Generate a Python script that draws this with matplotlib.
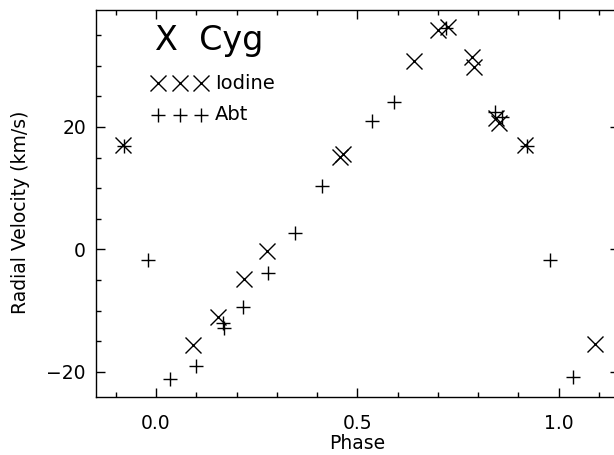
import numpy as np
import matplotlib
matplotlib.use("Agg")
import matplotlib.pyplot as plt
from matplotlib.ticker import MultipleLocator

plt.rcParams["font.family"] = ["DejaVu Sans"]

# ── radial velocities, folded on the pulsation phase ─────────
iodine_phase = [-0.082, 0.091, 0.155, 0.219, 0.275, 0.457, 0.464, 0.641,
                0.701, 0.726, 0.784, 0.790, 0.845, 0.853, 0.917, 1.091]
iodine_vel   = [17.0, -15.6, -11.0, -4.8, -0.2, 15.1, 15.6, 30.7,
                35.9, 36.4, 31.5, 29.8, 21.4, 20.6, 17.0, -15.5]

abt_phase = [-0.080, -0.021, 0.035, 0.099, 0.166, 0.170, 0.215, 0.279,
             0.345, 0.412, 0.536, 0.591, 0.720, 0.842, 0.859, 0.921,
             0.979, 1.035]
abt_vel   = [16.9, -1.75, -21.1, -19.0, -12.0, -12.9, -9.4, -3.9,
             2.7, 10.4, 21.0, 24.0, 36.1, 22.5, 21.7, 16.9,
             -1.75, -20.9]

xticks = [0.0, 0.5, 1.0]
xticklabels = ["0.0", "0.5", "1.0"]
yticks = [-20, 0, 20]
yticklabels = ["\u221220", "0", "20"]

fig = plt.figure(figsize=(6.14, 4.55), dpi=100)
ax = fig.add_axes([0.1557, 0.1275, 0.8524, 0.8505])

ax.plot(iodine_phase, iodine_vel, "x", color="black", markersize=12,
        markeredgewidth=1.0)
ax.plot(abt_phase, abt_vel, "+", color="black", markersize=10,
        markeredgewidth=1.0)

ax.set_xlim(-0.15, 1.15)
ax.set_ylim(-24.1, 39.1)

ax.set_xticks(xticks)
ax.set_xticklabels(xticklabels)
ax.set_yticks(yticks)
ax.set_yticklabels(yticklabels)
ax.xaxis.set_minor_locator(MultipleLocator(0.1))
ax.yaxis.set_minor_locator(MultipleLocator(5))

ax.tick_params(which="both", direction="in", top=True, right=True,
               width=1.0, color="black", labelsize=13.5)
ax.tick_params(which="major", length=6.5)
ax.tick_params(which="minor", length=3.6)
ax.tick_params(axis="x", which="major", pad=12)
ax.tick_params(axis="y", which="major", pad=7)

for sp in ax.spines.values():
    sp.set_linewidth(1.0)

ax.set_xlabel("Phase", fontsize=13.5, labelpad=1)
ax.set_ylabel("Radial Velocity (km/s)", fontsize=13.5)
ax.yaxis.set_label_coords(-0.125, 0.478)

# star name and hand-made key in the upper left
ax.text(0.114, 0.92, "X  Cyg", transform=ax.transAxes, fontsize=24,
        ha="left", va="center")
key_x = [0.119, 0.161, 0.201]
ax.plot(key_x, [0.811] * 3, "x", color="black", markersize=12,
        markeredgewidth=1.0, transform=ax.transAxes, clip_on=False)
ax.plot(key_x, [0.729] * 3, "+", color="black", markersize=10,
        markeredgewidth=1.0, transform=ax.transAxes, clip_on=False)
ax.text(0.228, 0.811, "Iodine", transform=ax.transAxes, fontsize=14,
        ha="left", va="center")
ax.text(0.228, 0.729, "Abt", transform=ax.transAxes, fontsize=14,
        ha="left", va="center")

fig.savefig("out.png", dpi=100)
